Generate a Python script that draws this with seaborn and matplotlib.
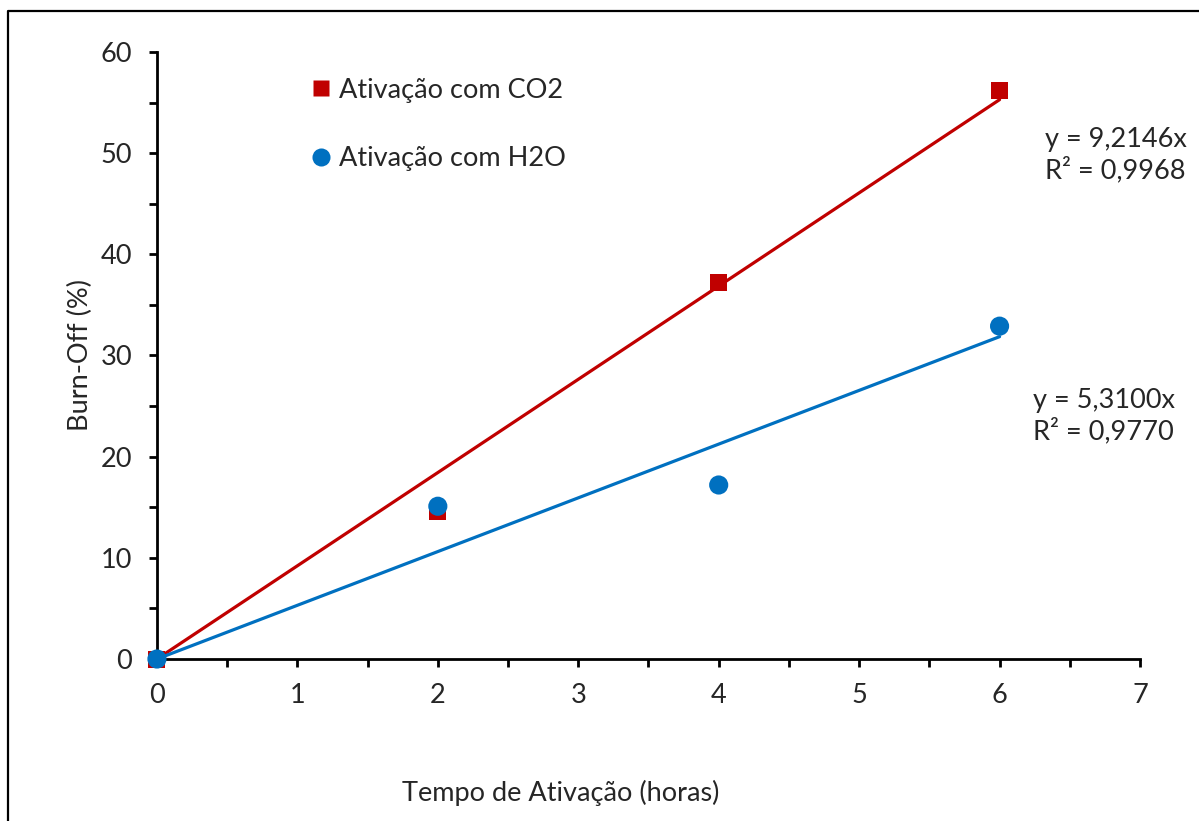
import numpy as np
import pandas as pd
import matplotlib
matplotlib.use("Agg")
import matplotlib.pyplot as plt
from matplotlib.lines import Line2D
from matplotlib.ticker import MultipleLocator
import seaborn as sns

# Burn-off measurements vs. activation time
tempo = [0, 2, 4, 6]
burnoff_co2 = [0, 14.6, 37.2, 56.2]
burnoff_h2o = [0, 15.1, 17.2, 32.9]

# Linear trend (through origin) coefficients
slope_co2, r2_co2 = 9.2146, 0.9968
slope_h2o, r2_h2o = 5.3100, 0.9770

labels = ["Ativação com CO2", "Ativação com H2O"]
x_ticks = [0, 1, 2, 3, 4, 5, 6, 7]
y_ticks = [0, 10, 20, 30, 40, 50, 60]

RED = "#C00000"
BLUE = "#0070C0"

sns.set_theme(style="white")
plt.rcParams["font.family"] = ["Lato", "DejaVu Sans"]
FS = 19.5

fig = plt.figure(figsize=(11.99, 8.21), dpi=100)
ax = fig.add_axes([0.1309, 0.1973, 0.8199, 0.7394])

df = pd.DataFrame({
    "tempo": tempo * 2,
    "burnoff": burnoff_co2 + burnoff_h2o,
    "serie": [labels[0]] * len(tempo) + [labels[1]] * len(tempo),
})

# trend lines
xfit = np.array([0, tempo[-1]])
fit = pd.DataFrame({
    "tempo": list(xfit) * 2,
    "burnoff": list(slope_co2 * xfit) + list(slope_h2o * xfit),
    "serie": [labels[0]] * 2 + [labels[1]] * 2,
})
sns.lineplot(data=fit, x="tempo", y="burnoff", hue="serie",
             palette=[RED, BLUE], linewidth=2.3, legend=False, ax=ax, zorder=2)

sns.scatterplot(data=df[df.serie == labels[0]], x="tempo", y="burnoff",
                marker="s", s=150, color=RED, edgecolor="none", ax=ax,
                zorder=3, legend=False)
sns.scatterplot(data=df[df.serie == labels[1]], x="tempo", y="burnoff",
                marker="o", s=190, color=BLUE, edgecolor="none", ax=ax,
                zorder=4, legend=False)

ax.set_xlim(0, 7)
ax.set_ylim(0, 60)
ax.set_xticks(x_ticks)
ax.set_yticks(y_ticks)
ax.xaxis.set_minor_locator(MultipleLocator(0.5))
ax.yaxis.set_minor_locator(MultipleLocator(5))
ax.set_xticklabels([str(v) for v in x_ticks], fontsize=FS)
ax.set_yticklabels([str(v) for v in y_ticks], fontsize=FS)
ax.tick_params(axis="both", which="both", direction="out", length=6,
               width=2, color="black", bottom=True, left=True)
ax.tick_params(axis="x", which="major", pad=11)
ax.tick_params(axis="y", which="major", pad=12)
for side in ["top", "right"]:
    ax.spines[side].set_visible(False)
for side in ["left", "bottom"]:
    ax.spines[side].set_color("black")
    ax.spines[side].set_linewidth(2)
for coll in ax.collections:
    coll.set_clip_on(False)

ax.set_xlabel("Tempo de Ativação (horas)", fontsize=FS)
ax.xaxis.set_label_coords(0.411, -0.199)
ax.set_ylabel("Burn-Off (%)", fontsize=FS)
ax.yaxis.set_label_coords(-0.065, 0.5)

handles = [
    Line2D([], [], linestyle="none", marker="s", markersize=12,
           markerfacecolor=RED, markeredgecolor="none"),
    Line2D([], [], linestyle="none", marker="o", markersize=13,
           markerfacecolor=BLUE, markeredgecolor="none"),
]
ax.legend(handles, labels, loc="upper left", bbox_to_anchor=(0.145, 0.975),
          frameon=False, fontsize=FS, handlelength=0.8, handletextpad=0.25,
          labelspacing=1.6, borderaxespad=0.0)

ax.text(1045 / 1199, 1 - 155 / 821,
        f"y = {slope_co2:.4f}x\nR² = {r2_co2:.4f}".replace(".", ","),
        transform=fig.transFigure, fontsize=FS, ha="left", va="center",
        linespacing=1.2)
ax.text(1033 / 1199, 1 - 416 / 821,
        f"y = {slope_h2o:.4f}x\nR² = {r2_h2o:.4f}".replace(".", ","),
        transform=fig.transFigure, fontsize=FS, ha="left", va="center",
        linespacing=1.2)

# outer chart frame
frame = Line2D([7.5 / 1199, 7.5 / 1199, 1.01], [-0.01, 1 - 11.5 / 821, 1 - 11.5 / 821],
               transform=fig.transFigure, color="black", linewidth=1.6)
fig.add_artist(frame)

fig.savefig("out.png", dpi=100, facecolor="white")
